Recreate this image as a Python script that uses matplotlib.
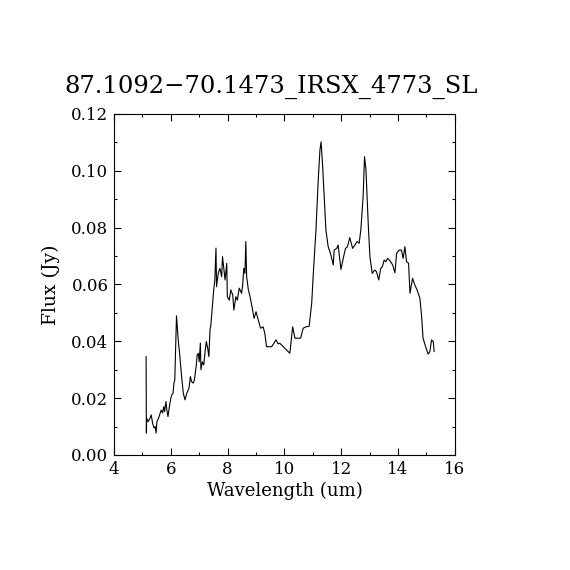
import numpy as np
import matplotlib
matplotlib.use("Agg")
import matplotlib.pyplot as plt
from matplotlib.ticker import MultipleLocator, FormatStrFormatter

TITLE = "87.1092\u221270.1473_IRSX_4773_SL"

# spectrum
wave = [5.13, 5.14, 5.15, 5.20, 5.27, 5.31, 5.36, 5.41, 5.45, 5.48, 5.51, 5.57,
        5.63, 5.66, 5.71, 5.75, 5.78, 5.83, 5.86, 5.90, 5.95, 6.00, 6.04, 6.08,
        6.11, 6.14, 6.16, 6.20, 6.26, 6.32, 6.38, 6.44, 6.50, 6.56, 6.64, 6.69,
        6.73, 6.79, 6.83, 6.89, 6.93, 6.97, 7.00, 7.04, 7.06, 7.11, 7.16, 7.20,
        7.25, 7.30, 7.34, 7.38, 7.41, 7.46, 7.51, 7.55, 7.59, 7.61, 7.67, 7.73,
        7.79, 7.82, 7.87, 7.91, 7.97, 7.99, 8.06, 8.11, 8.18, 8.22, 8.29, 8.34,
        8.41, 8.49, 8.53, 8.57, 8.61, 8.64, 8.67, 8.73, 8.79, 8.88, 8.93, 9.00,
        9.08, 9.16, 9.25, 9.31, 9.37, 9.55, 9.63, 9.70, 9.78, 9.84, 9.90, 10.02,
        10.08, 10.19, 10.29, 10.37, 10.57, 10.66, 10.76, 10.87, 10.96, 11.01,
        11.11, 11.19, 11.25, 11.29, 11.34, 11.40, 11.46, 11.54, 11.62, 11.72,
        11.75, 11.84, 11.89, 11.99, 12.07, 12.15, 12.22, 12.30, 12.40, 12.48,
        12.56, 12.63, 12.69, 12.77, 12.82, 12.87, 12.91, 12.96, 13.01, 13.09,
        13.18, 13.24, 13.32, 13.39, 13.45, 13.51, 13.57, 13.63, 13.71, 13.81,
        13.89, 13.95, 14.04, 14.12, 14.18, 14.24, 14.30, 14.37, 14.42, 14.51,
        14.59, 14.67, 14.77, 14.83, 14.88, 14.97, 15.06, 15.12, 15.18, 15.24,
        15.27]
flux = [0.0346, 0.0077, 0.0130, 0.0117, 0.0130, 0.0141, 0.0111, 0.0095, 0.0100,
        0.0077, 0.0117, 0.0130, 0.0148, 0.0158, 0.0148, 0.0170, 0.0153, 0.0188,
        0.0158, 0.0135, 0.0170, 0.0200, 0.0212, 0.0218, 0.0253, 0.0264, 0.0340,
        0.0490, 0.0405, 0.0346, 0.0276, 0.0217, 0.0194, 0.0217, 0.0235, 0.0276,
        0.0258, 0.0253, 0.0264, 0.0310, 0.0352, 0.0358, 0.0328, 0.0394, 0.0300,
        0.0328, 0.0317, 0.0358, 0.0399, 0.0375, 0.0346, 0.0440, 0.0457, 0.0520,
        0.0580, 0.0616, 0.0728, 0.0592, 0.0640, 0.0657, 0.0627, 0.0698, 0.0651,
        0.0616, 0.0675, 0.0557, 0.0545, 0.0581, 0.0563, 0.0510, 0.0557, 0.0545,
        0.0587, 0.0569, 0.0598, 0.0657, 0.0639, 0.0751, 0.0627, 0.0581, 0.0557,
        0.0510, 0.0481, 0.0504, 0.0475, 0.0446, 0.0451, 0.0428, 0.0381, 0.0381,
        0.0393, 0.0405, 0.0391, 0.0393, 0.0387, 0.0375, 0.0369, 0.0358, 0.0451,
        0.0411, 0.0411, 0.0446, 0.0451, 0.0453, 0.0534, 0.0627, 0.0792, 0.0968,
        0.1073, 0.1102, 0.1026, 0.0909, 0.0792, 0.0733, 0.0710, 0.0669, 0.0721,
        0.0727, 0.0739, 0.0653, 0.0692, 0.0727, 0.0733, 0.0765, 0.0727, 0.0739,
        0.0751, 0.0745, 0.0792, 0.0909, 0.1050, 0.1003, 0.0909, 0.0792, 0.0698,
        0.0639, 0.0651, 0.0645, 0.0616, 0.0657, 0.0663, 0.0686, 0.0680, 0.0692,
        0.0684, 0.0669, 0.0641, 0.0710, 0.0721, 0.0721, 0.0692, 0.0733, 0.0680,
        0.0675, 0.0569, 0.0622, 0.0598, 0.0581, 0.0551, 0.0487, 0.0411, 0.0381,
        0.0355, 0.0364, 0.0405, 0.0399, 0.0364]

plt.rcParams['font.family'] = ['DejaVu Serif']

fig = plt.figure(figsize=(5.7, 5.7), dpi=100)
ax = fig.add_axes([0.2, 0.2018, 0.598, 0.5982])

ax.plot(wave, flux, color='black', linewidth=0.8)

ax.set_xlim(4, 16)
ax.set_ylim(0, 0.12)
ax.xaxis.set_major_locator(MultipleLocator(2))
ax.xaxis.set_minor_locator(MultipleLocator(1))
ax.yaxis.set_major_locator(MultipleLocator(0.02))
ax.yaxis.set_minor_locator(MultipleLocator(0.01))
ax.yaxis.set_major_formatter(FormatStrFormatter('%.2f'))
ax.tick_params(which='both', direction='in', top=True, right=True, width=0.8)
ax.tick_params(which='major', length=5, labelsize=12, pad=4)
ax.tick_params(which='minor', length=2.5)
for s in ax.spines.values():
    s.set_linewidth(0.8)

ax.set_xlabel("Wavelength (um)", fontsize=13, labelpad=3)
ax.set_ylabel("Flux (Jy)", fontsize=13.5, labelpad=8)
fig.text(0.476, 0.838, TITLE, fontsize=17.5, ha='center', va='baseline')

fig.savefig('out.png', dpi=100)
